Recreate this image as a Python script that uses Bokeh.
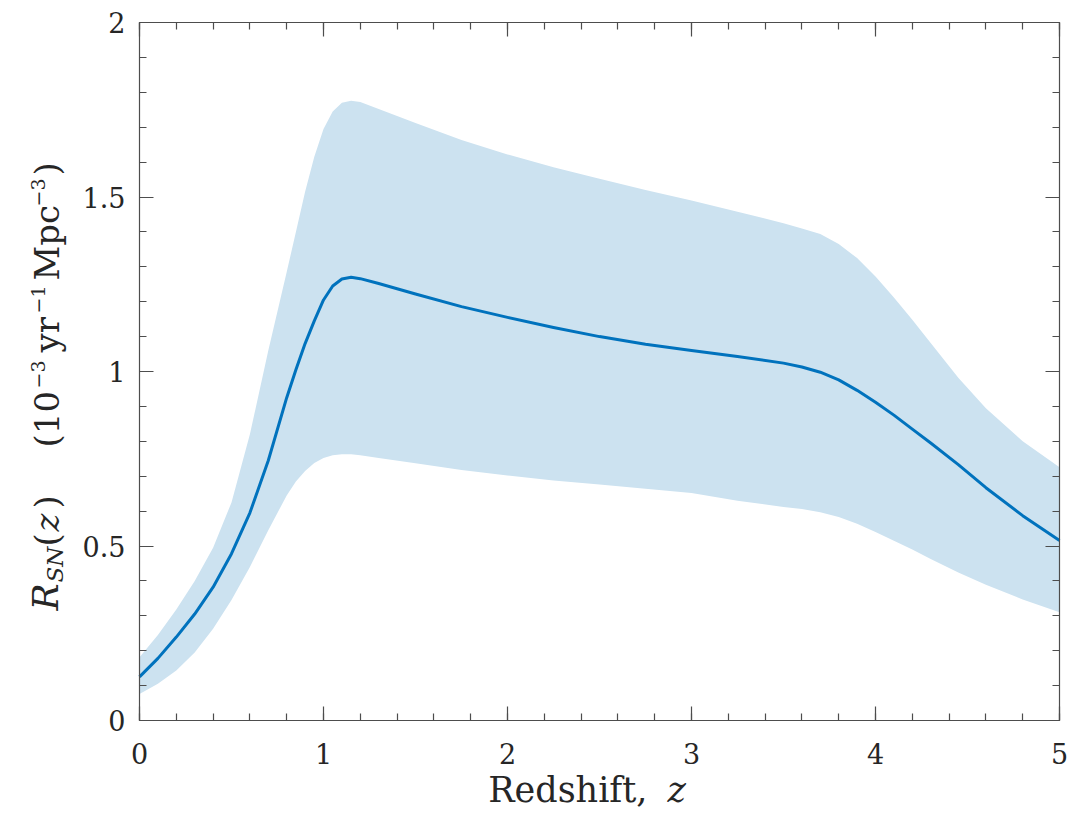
import math
from bokeh.plotting import figure
from bokeh.models import (LinearAxis, SingleIntervalTicker, CustomJSTickFormatter,
                          Label, Range1d)
from bokeh.embed import file_html
from bokeh.resources import INLINE

# ---------------- data ----------------
redshift = [0.0, 0.1, 0.2, 0.3, 0.4, 0.5, 0.6, 0.7, 0.8,
            0.85, 0.9, 0.95, 1.0, 1.05, 1.1, 1.15, 1.2,
            1.3, 1.5,
            1.75, 2.0, 2.25, 2.5, 2.75, 3.0, 3.25, 3.5,
            3.6, 3.7, 3.8, 3.9, 4.0, 4.1, 4.2, 4.3,
            4.45, 4.6, 4.8, 5.0]

rate_central = [0.125, 0.178, 0.239, 0.305, 0.382, 0.478, 0.595, 0.745, 0.925,
                1.005, 1.08, 1.145, 1.205, 1.245, 1.265, 1.27, 1.266,
                1.252, 1.222,
                1.186, 1.155, 1.126, 1.100, 1.078, 1.060, 1.043, 1.024,
                1.013, 0.998, 0.976, 0.946, 0.912, 0.875, 0.835, 0.795,
                0.733, 0.667, 0.587, 0.516]

rate_upper = [0.181, 0.245, 0.318, 0.40, 0.495, 0.625, 0.82, 1.06, 1.285,
              1.40, 1.515, 1.615, 1.695, 1.745, 1.77, 1.776, 1.772,
              1.752, 1.712,
              1.663, 1.622, 1.585, 1.552, 1.52, 1.49, 1.458, 1.425,
              1.41, 1.394, 1.365, 1.325, 1.272, 1.212, 1.148, 1.082,
              0.982, 0.895, 0.800, 0.726]

rate_lower = [0.076, 0.105, 0.143, 0.195, 0.263, 0.345, 0.44, 0.545, 0.645,
              0.685, 0.715, 0.738, 0.752, 0.76, 0.763, 0.763, 0.76,
              0.752, 0.737,
              0.718, 0.702, 0.688, 0.676, 0.664, 0.652, 0.63, 0.612,
              0.606, 0.597, 0.583, 0.564, 0.54, 0.515, 0.49, 0.463,
              0.424, 0.389, 0.347, 0.310]

x_limits = (0, 5)
y_limits = (0, 2)
x_major_interval = 1
y_major_interval = 0.5

# ---------------- styling ----------------
FONT = "DejaVu Serif"
TEXT_COLOR = "#262626"
AXIS_COLOR = "#4d4d4d"
LINE_COLOR = "#0072bd"
BAND_COLOR = "#cce2f0"

W, H = 1087, 814
LEFT, RIGHT, TOP, BOTTOM = 139, 28, 22, 94      # margins around the axes box (pixels)
box_w = W - LEFT - RIGHT
box_h = H - TOP - BOTTOM
ux = box_w / (x_limits[1] - x_limits[0])        # pixels per data unit
uy = box_h / (y_limits[1] - y_limits[0])

# the plotting frame covers the whole canvas; the axes box sits inside it
p = figure(width=W, height=H, output_backend="svg", toolbar_location=None,
           x_range=Range1d(x_limits[0] - LEFT / ux, x_limits[1] + RIGHT / ux),
           y_range=Range1d(y_limits[0] - BOTTOM / uy, y_limits[1] + TOP / uy),
           x_axis_location=None, y_axis_location=None,
           min_border_left=0, min_border_right=0, min_border_top=0, min_border_bottom=0)
p.grid.visible = False
p.outline_line_color = None
p.background_fill_color = "white"
p.border_fill_color = "white"

p.varea(x=redshift, y1=rate_lower, y2=rate_upper, fill_color=BAND_COLOR, fill_alpha=1.0)
p.line(redshift, rate_central, line_color=LINE_COLOR, line_width=3, line_join="round")


def make_axis(interval, bounds, loc, show_labels):
    ax = LinearAxis(ticker=SingleIntervalTicker(interval=interval, num_minor_ticks=5),
                    bounds=bounds, fixed_location=loc)
    ax.axis_line_color = AXIS_COLOR
    ax.axis_line_width = 1.2
    ax.major_tick_line_color = AXIS_COLOR
    ax.minor_tick_line_color = AXIS_COLOR
    ax.major_tick_line_width = 1.2
    ax.minor_tick_line_width = 1.2
    ax.major_tick_in = 14
    ax.major_tick_out = 0
    ax.minor_tick_in = 7
    ax.minor_tick_out = 0
    if show_labels:
        ax.formatter = CustomJSTickFormatter(code="return tick.toString()")
        ax.major_label_text_font = FONT
        ax.major_label_text_font_size = "27px"
        ax.major_label_text_color = TEXT_COLOR
    else:
        ax.formatter = CustomJSTickFormatter(code="return ''")
        ax.major_label_text_font_size = "0px"
        ax.major_label_standoff = 0
    return ax


bottom_ax = make_axis(x_major_interval, x_limits, y_limits[0], True)
bottom_ax.major_label_standoff = 22
left_ax = make_axis(y_major_interval, y_limits, x_limits[0], True)
left_ax.major_label_standoff = 14
p.add_layout(bottom_ax, "below")
p.add_layout(left_ax, "left")
p.add_layout(make_axis(x_major_interval, x_limits, y_limits[1], False), "above")
p.add_layout(make_axis(y_major_interval, y_limits, x_limits[1], False), "right")


# ---------------- axis titles built from pieces ----------------
BASE_SHIFT = 0.35   # Bokeh draws the alphabetic baseline ~0.35 em lower; compensate


def dx(px):
    return x_limits[0] + (px - LEFT) / ux


def dy(py):
    return y_limits[0] + (H - BOTTOM - py) / uy


def add_text(text, px, py, size, italic=False, angle=0.0, align="left"):
    p.add_layout(Label(x=dx(px), y=dy(py), text=text, x_units="data", y_units="data",
                       angle=angle, text_align=align, text_baseline="alphabetic",
                       text_font=FONT, text_font_size=f"{size}px",
                       text_font_style="italic" if italic else "normal",
                       text_color=TEXT_COLOR))


# x-axis title: "Redshift, z"  (baseline at y = 802 px)
XT = 35
add_text("Redshift,", 647, 802 - BASE_SHIFT * XT, XT, align="right")
add_text("z", 667, 802 - BASE_SHIFT * XT, XT, italic=True)

# y-axis title: R_SN(z) (10^-3 yr^-1 Mpc^-3), rotated, reading upward
# (text, start pixel along the axis, baseline pixel, size, italic)
MAIN, SCRIPT = 34, 19
ylabel_parts = [
    ("R", 610, 58, 36, True),
    ("SN", 582, 63, 23, True),
    ("(", 546, 58, MAIN, False),
    ("z", 531, 58, MAIN, True),
    (")", 508, 58, MAIN, False),
    ("(10", 447, 58, MAIN, False),
    ("\u22123", 388, 44, SCRIPT, False),
    ("yr", 352, 58, MAIN, False),
    ("\u22121", 313, 44, SCRIPT, False),
    ("Mpc", 280, 58, MAIN, False),
    ("\u22123", 206, 44, SCRIPT, False),
    (")", 175, 58, MAIN, False),
]
for txt, start_y, base_x, size, ital in ylabel_parts:
    add_text(txt, base_x - BASE_SHIFT * size, start_y, size, italic=ital, angle=math.pi / 2)

open("out.html", "w").write(file_html(p, INLINE))
